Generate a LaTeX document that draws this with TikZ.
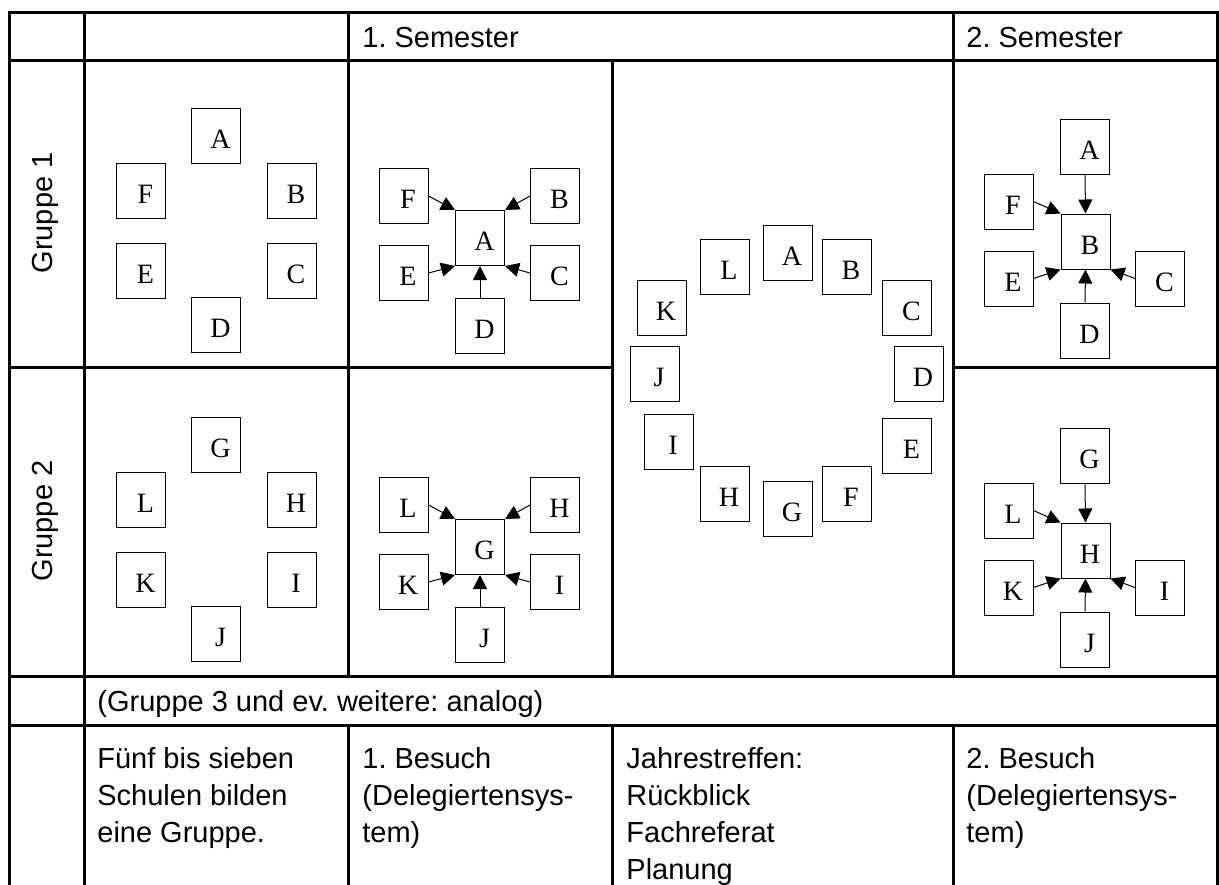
\documentclass[tikz,border=0pt]{standalone}
\usepackage{fontspec}
\setmainfont{Liberation Sans}
\newfontfamily\boxfont{Liberation Serif}
\usetikzlibrary{arrows.meta}
\newcommand\boxlet[1]{\kern4.5pt#1}
\frenchspacing
\begin{document}
\begin{tikzpicture}[x=0.5pt,y=-0.5pt,
  grid/.style={line width=1.5pt, line cap=rect},
  sbox/.style={draw=black, line width=0.5pt, minimum width=24.5pt, minimum height=27.5pt, inner sep=0pt, font=\boxfont\fontsize{14}{16}\selectfont, text height=12.6pt, text depth=0pt},
  arr/.style={line width=0.5pt, -{Triangle[length=7pt,width=7pt]}},
  txt/.style={anchor=base west, inner sep=0pt, font=\frenchspacing\fontsize{14.5}{18}\selectfont},
  rtxt/.style={anchor=base, inner sep=0pt, rotate=90, font=\fontsize{14.5}{18}\selectfont}
]
\useasboundingbox (0,0) rectangle (1219,884);
% table grid
\draw[grid] (9,12) -- (1217,12);
\draw[grid] (9,60) -- (1217,60);
\draw[grid] (9,367) -- (612,367);
\draw[grid] (953,367) -- (1217,367);
\draw[grid] (9,676) -- (1217,676);
\draw[grid] (9,725) -- (1217,725);
\draw[grid] (9,12) -- (9,884);
\draw[grid] (84,12) -- (84,884);
\draw[grid] (348,12) -- (348,676);
\draw[grid] (348,725) -- (348,884);
\draw[grid] (612,60) -- (612,676);
\draw[grid] (612,725) -- (612,884);
\draw[grid] (953,12) -- (953,676);
\draw[grid] (953,725) -- (953,884);
\draw[grid] (1217,12) -- (1217,884);
% header texts
\node[txt] (h1) at (362,47) {1. Semester};
\node[txt] (h2) at (966,47) {2. Semester};
\node[rtxt] (g1) at (52,213) {Gruppe 1};
\node[rtxt] (g2) at (52,521) {Gruppe 2};
% column 2
\node[sbox] (pA) at (216,136) {\boxlet A};
\node[sbox] (pF) at (141,190.5) {\boxlet F};
\node[sbox] (pB) at (291.5,190.5) {\boxlet B};
\node[sbox] (pE) at (141,270.5) {\boxlet E};
\node[sbox] (pC) at (291.5,270.5) {\boxlet C};
\node[sbox] (pD) at (216,324.5) {\boxlet D};
\node[sbox] (pG) at (216,445) {\boxlet G};
\node[sbox] (pL) at (141,499.5) {\boxlet L};
\node[sbox] (pH) at (291.5,499.5) {\boxlet H};
\node[sbox] (pK) at (141,579.5) {\boxlet K};
\node[sbox] (pI) at (291.5,579.5) {\boxlet I};
\node[sbox] (pJ) at (216,633.5) {\boxlet J};
% column 3
\node[sbox] (qA) at (480,238) {\boxlet A};
\node[sbox] (qF) at (403.5,196) {\boxlet F};
\node[sbox] (qB) at (555,196) {\boxlet B};
\node[sbox] (qE) at (403.5,273) {\boxlet E};
\node[sbox] (qC) at (555,273) {\boxlet C};
\node[sbox] (qD) at (480,325.5) {\boxlet D};
\draw[arr] (qF.east) -- (qA.north west);
\draw[arr] (qB.west) -- (qA.north east);
\draw[arr] (qE.east) -- (qA.south west);
\draw[arr] (qC.west) -- (qA.south east);
\draw[arr] (qD.north) -- (qA.south);
\node[sbox] (qG) at (480,547) {\boxlet G};
\node[sbox] (qL) at (403.5,505) {\boxlet L};
\node[sbox] (qH) at (555,505) {\boxlet H};
\node[sbox] (qK) at (403.5,582) {\boxlet K};
\node[sbox] (qI) at (555,582) {\boxlet I};
\node[sbox] (qJ) at (480,634.5) {\boxlet J};
\draw[arr] (qL.east) -- (qG.north west);
\draw[arr] (qH.west) -- (qG.north east);
\draw[arr] (qK.east) -- (qG.south west);
\draw[arr] (qI.west) -- (qG.south east);
\draw[arr] (qJ.north) -- (qG.south);
% middle circle
\node[sbox] (mA) at (787.5,252.5) {\boxlet A};
\node[sbox] (mL) at (724.5,267) {\boxlet L};
\node[sbox] (mB) at (846.5,267) {\boxlet B};
\node[sbox] (mK) at (661.5,307.5) {\boxlet K};
\node[sbox] (mC) at (907,307.5) {\boxlet C};
\node[sbox] (mJ) at (654.5,374) {\boxlet J};
\node[sbox] (mD) at (918.5,374) {\boxlet D};
\node[sbox] (mI) at (668.5,441.5) {\boxlet I};
\node[sbox] (mE) at (907,445.5) {\boxlet E};
\node[sbox] (mH) at (724.5,493.5) {\boxlet H};
\node[sbox] (mF) at (846.5,493.5) {\boxlet F};
\node[sbox] (mG) at (787.5,508.5) {\boxlet G};
% column 5
\node[sbox] (rA) at (1085,146.5) {\boxlet A};
\node[sbox] (rB) at (1085.5,241.5) {\boxlet B};
\node[sbox] (rF) at (1008.5,201.5) {\boxlet F};
\node[sbox] (rE) at (1008.5,278.5) {\boxlet E};
\node[sbox] (rC) at (1160,278.5) {\boxlet C};
\node[sbox] (rD) at (1085,330.5) {\boxlet D};
\draw[arr] (rA.south) -- (rB.north);
\draw[arr] (rF.east) -- (rB.north west);
\draw[arr] (rE.east) -- (rB.south west);
\draw[arr] (rC.west) -- (rB.south east);
\draw[arr] (rD.north) -- (rB.south);
\node[sbox] (rG) at (1085,455.5) {\boxlet G};
\node[sbox] (rH) at (1085.5,550.5) {\boxlet H};
\node[sbox] (rL) at (1008.5,510.5) {\boxlet L};
\node[sbox] (rK) at (1008.5,587.5) {\boxlet K};
\node[sbox] (rI) at (1160,587.5) {\boxlet I};
\node[sbox] (rJ) at (1085,639.5) {\boxlet J};
\draw[arr] (rG.south) -- (rH.north);
\draw[arr] (rL.east) -- (rH.north west);
\draw[arr] (rK.east) -- (rH.south west);
\draw[arr] (rI.west) -- (rH.south east);
\draw[arr] (rJ.north) -- (rH.south);
% lower rows
\node[txt] (an) at (97,711) {(Gruppe 3 und ev. weitere: analog)};
\node[txt] (b1) at (97,768) {Fünf bis sieben};
\node[txt] (b2) at (97,805) {Schulen bilden};
\node[txt] (b3) at (97,842) {eine Gruppe.};
\node[txt] (c1) at (362,768) {1. Besuch};
\node[txt] (c2) at (362,805) {(Delegiertensys-};
\node[txt] (c3) at (362,842) {tem)};
\node[txt] (d1) at (626,768) {Jahrestreffen:};
\node[txt] (d2) at (626,805) {Rückblick};
\node[txt] (d3) at (626,842) {Fachreferat};
\node[txt] (d4) at (626,879) {Planung};
\node[txt] (e1) at (966,768) {2. Besuch};
\node[txt] (e2) at (966,805) {(Delegiertensys-};
\node[txt] (e3) at (966,842) {tem)};
\end{tikzpicture}
\end{document}
